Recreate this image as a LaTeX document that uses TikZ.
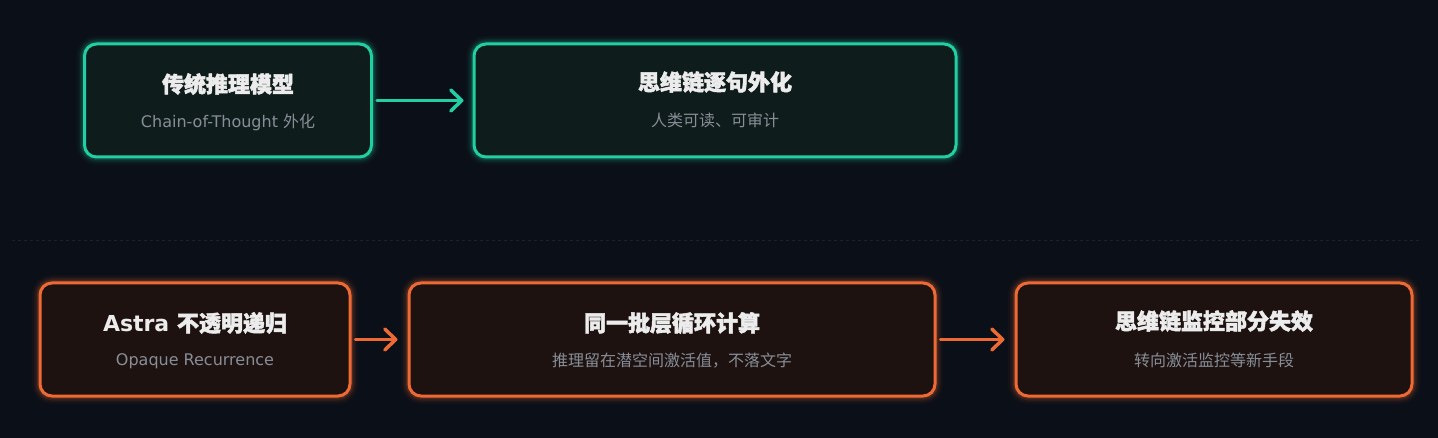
\documentclass[tikz,border=0pt]{standalone}
\usepackage{fontspec}
\setmainfont{DejaVu Sans}
\newfontfamily\cjk{Noto Sans CJK SC}
\newfontfamily\cjkb{Noto Sans CJK SC}[FakeBold=2.2]
\usetikzlibrary{arrows.meta}
\definecolor{bg}{HTML}{0B0F17}
\definecolor{grn}{HTML}{22CFA3}
\definecolor{grnfill}{HTML}{0F1C1C}
\definecolor{org}{HTML}{EE6A35}
\definecolor{orgfill}{HTML}{1E1210}
\definecolor{ttl}{HTML}{ECECEC}
\definecolor{sub}{HTML}{878E98}
\definecolor{sep}{HTML}{1C222C}
\tikzset{
  box/.style={rounded corners=12pt, line width=3pt, inner sep=0pt},
  gbox/.style={box, draw=grn, fill=grnfill},
  obox/.style={box, draw=org, fill=orgfill},
  ttlstyle/.style={text=ttl, font=\fontsize{22}{26}\selectfont\bfseries, inner sep=0pt},
  substyle/.style={text=sub, font=\fontsize{16}{18}\selectfont, inner sep=0pt},
  conn/.style={line width=3.5pt, line cap=round, -{Straight Barb[length=11pt,width=21pt,line width=3.5pt,round]}},
}
\newcommand{\glowbox}[6]{%
  % #1 name, #2 cx, #3 cy, #4 width, #5 colour, #6 fill style
  \foreach \w/\o in {16/0.04,12/0.06,9/0.09,6/0.14}{
    \draw[rounded corners=12pt, line width=\w pt, draw=#5, opacity=\o]
      (#2-#4/2, #3-56.5) rectangle (#2+#4/2, #3+56.5);
  }
  \node[#6, minimum width=#4 pt, minimum height=113pt] (#1) at (#2,#3) {};
}
\begin{document}
\begin{tikzpicture}[x=1pt,y=-1pt]
\fill[bg] (0,0) rectangle (1438,438);
\useasboundingbox (0,0) rectangle (1438,438);

\glowbox{b1}{228}{100.5}{287}{grn}{gbox}
\glowbox{b2}{715}{100.5}{482}{grn}{gbox}
\glowbox{b3}{195}{339.5}{310}{org}{obox}
\glowbox{b4}{672}{339.5}{526}{org}{obox}
\glowbox{b5}{1214}{339.5}{396}{org}{obox}

\node[ttlstyle] (t1) at (228,84) {\cjkb 传统推理模型};
\node[substyle] (s1) at (228,122) {Chain-of-Thought {\cjk 外化}};
\node[ttlstyle] (t2) at (715,82) {\cjkb 思维链逐句外化};
\node[substyle] (s2) at (715,120) {\cjk 人类可读、可审计};
\node[ttlstyle] (t3) at (195,323) {Astra {\cjkb 不透明递归}};
\node[substyle] (s3) at (195,361) {Opaque Recurrence};
\node[ttlstyle] (t4) at (672,323) {\cjkb 同一批层循环计算};
\node[substyle] (s4) at (672,361) {\cjk 推理留在潜空间激活值，不落文字};
\node[ttlstyle] (t5) at (1214,321) {\cjkb 思维链监控部分失效};
\node[substyle] (s5) at (1214,360) {\cjk 转向激活监控等新手段};

\draw[conn, grn] ([xshift=4pt]b1.east) -- ([xshift=-9pt]b2.west);
\draw[conn, org] ([xshift=4pt]b3.east) -- ([xshift=-10pt]b4.west);
\draw[conn, org] ([xshift=4pt]b4.east) -- ([xshift=-10pt]b5.west);

\coordinate (sepL) at (12,241);
\coordinate (sepR) at (1422,241);
\draw[sep, line width=1pt, dash pattern=on 3pt off 3pt] (sepL) -- (sepR);
\end{tikzpicture}
\end{document}
